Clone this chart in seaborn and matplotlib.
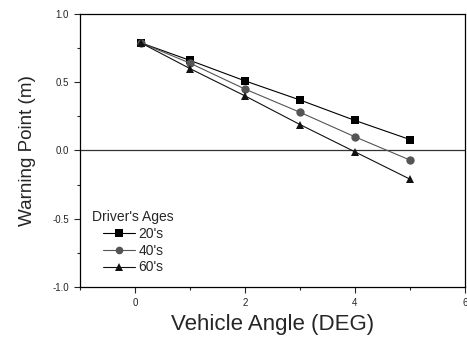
import matplotlib
matplotlib.use("Agg")
import matplotlib.pyplot as plt
import seaborn as sns
import pandas as pd
from matplotlib.ticker import MultipleLocator

angles = [0.1, 1, 2, 3, 4, 5]
ages = ["20's", "40's", "60's"]
warn_20s = [0.79, 0.66, 0.51, 0.37, 0.22, 0.08]
warn_40s = [0.79, 0.64, 0.45, 0.28, 0.10, -0.07]
warn_60s = [0.79, 0.60, 0.40, 0.19, -0.01, -0.21]

df = pd.DataFrame({
    "angle": angles * 3,
    "warn": warn_20s + warn_40s + warn_60s,
    "age": [ages[0]] * 6 + [ages[1]] * 6 + [ages[2]] * 6,
})

sns.set_style("ticks")
plt.rcParams['font.family'] = ['Liberation Sans', 'DejaVu Sans']

fig = plt.figure(figsize=(4.67, 3.39), dpi=100)
ax = fig.add_axes([80/467, 1-287/339, 385/467, 273/339])

palette = {"20's": "#000000", "40's": "#555555", "60's": "#111111"}
markers = {"20's": "s", "40's": "o", "60's": "^"}
sns.lineplot(data=df, x="angle", y="warn", hue="age", style="age",
             palette=palette, markers=markers, dashes=False,
             markersize=6, linewidth=0.8, markeredgewidth=0, ax=ax)

ax.axhline(0, color="#333333", linewidth=0.9, zorder=0)
ax.set_xlim(-1, 6)
ax.set_ylim(-1, 1)
ax.xaxis.set_minor_locator(MultipleLocator(1))
ax.yaxis.set_minor_locator(MultipleLocator(0.25))
ax.set_xticks([0, 2, 4, 6])
ax.set_xticklabels(["0", "2", "4", "6"])
ax.set_yticks([-1.0, -0.5, 0.0, 0.5, 1.0])
ax.set_yticklabels(["-1.0", "-0.5", "0.0", "0.5", "1.0"])
ax.tick_params(which="major", length=4, width=0.8, labelsize=7, pad=4, direction="out")
ax.tick_params(which="minor", length=2.5, width=0.8, direction="out")
for s in ax.spines.values():
    s.set_linewidth(0.9)
    s.set_color("black")

ax.set_xlabel("Vehicle Angle (DEG)", fontsize=16, labelpad=4)
ax.set_ylabel("Warning Point (m)", fontsize=13.6, labelpad=12)

handles, labels = ax.get_legend_handles_labels()
for h in handles:
    h.set_markersize(5.5)
leg = ax.legend(handles, labels, loc="lower left", bbox_to_anchor=(0.061, 0.046),
                frameon=False, fontsize=10, handlelength=2.3,
                handletextpad=0.2, labelspacing=0.2, borderaxespad=0.0,
                borderpad=0.0)
ax.text(0.03, 0.232, "Driver's Ages", transform=ax.transAxes, fontsize=10,
        ha="left", va="bottom")

fig.savefig("out.png", dpi=100)
